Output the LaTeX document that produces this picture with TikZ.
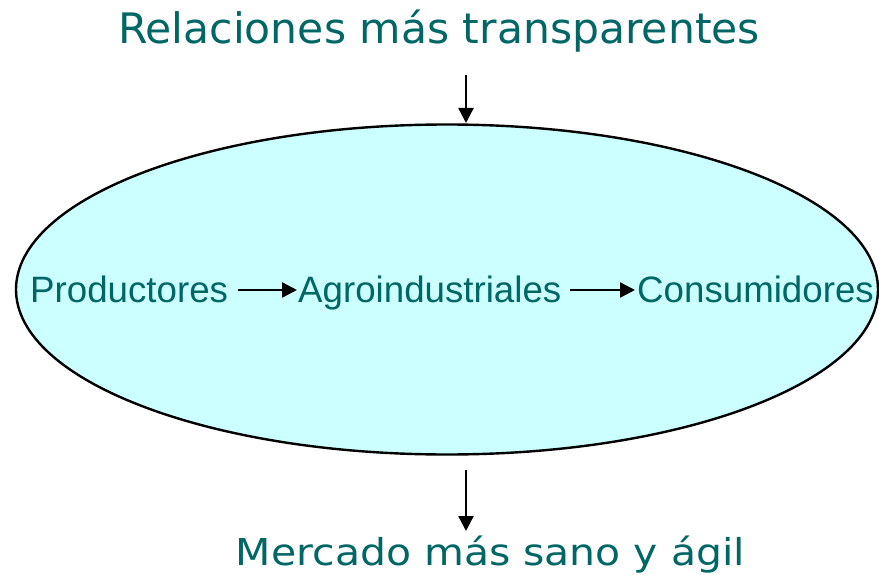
\documentclass[tikz,border=0pt]{standalone}
\usepackage{fontspec}
\setmainfont{Liberation Sans}
\newfontfamily\titlefont{DejaVu Sans}
\usetikzlibrary{arrows.meta,shapes.geometric}
\definecolor{tealtext}{RGB}{0,102,102}
\definecolor{lightcyan}{RGB}{204,255,255}
\tikzset{
  inner/.style={text=tealtext,inner sep=0pt,anchor=base west,font=\fontsize{36.7}{40}\selectfont},
  outer/.style={text=tealtext,inner sep=0pt,anchor=base},
  arr/.style={-{Triangle[length=15pt,width=15pt]},line width=2.4pt,black},
  oval/.style={draw=black,line width=2.4pt,fill=lightcyan}
}
\begin{document}
\begin{tikzpicture}[x=1pt,y=-1pt]
\useasboundingbox (0,0) rectangle (879,575);
\fill[white] (0,0) rectangle (879,575);
\draw[oval] (447,289.5) ellipse [x radius=431, y radius=165];
\node[outer] (title) at (439,44) {\resizebox{642pt}{\height}{\titlefont\fontsize{42}{46}\selectfont Relaciones más transparentes}};
\node[outer] (bottom) at (490.5,565) {\resizebox{509pt}{\height}{\titlefont\fontsize{37}{42}\selectfont Mercado más sano y ágil}};
\node[inner] (p) at (30,302) {Productores};
\node[inner] (a) at (298,302) {Agroindustriales};
\node[inner] (c) at (637,302) {Consumidores};
\coordinate (mid) at (0,290);
\coordinate (t1) at (466,75);
\coordinate (t2) at (466,123);
\coordinate (b1) at (466,470);
\coordinate (b2) at (466,531);
\draw[arr] ([xshift=10pt]p.east |- mid) -- ([xshift=-1pt]a.west |- mid);
\draw[arr] ([xshift=8pt]a.east |- mid) -- ([xshift=-2pt]c.west |- mid);
\draw[arr] (t1) -- (t2);
\draw[arr] (b1) -- (b2);
\end{tikzpicture}
\end{document}
